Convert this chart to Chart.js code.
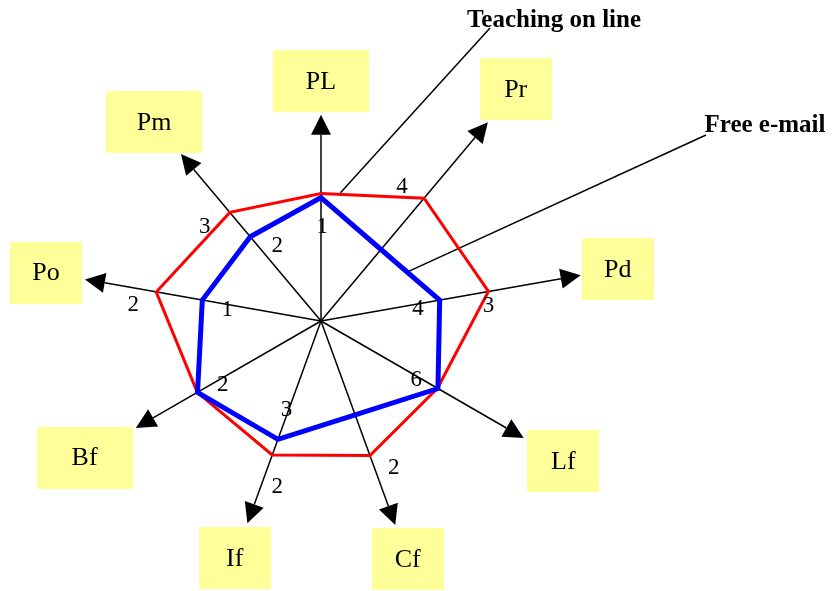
<!DOCTYPE html>
<html>
<head>
<meta charset="utf-8">
<script src="https://cdn.jsdelivr.net/npm/chart.js@4.4.1/dist/chart.umd.min.js"></script>
<style>
  html, body { margin: 0; padding: 0; background: #fff; }
  #wrap { width: 833px; height: 591px; }
</style>
</head>
<body>
<div id="wrap"><canvas id="radar"></canvas></div>
<script>
const axes = ["PL", "Pr", "Pd", "Lf", "Cf", "If", "Bf", "Po", "Pm"];
const teachingOnLine = [4.74, 5.96, 6.32, 5.0, 5.32, 5.3, 5.31, 6.22, 5.27];
const freeEmail = [4.59, 3.47, 4.48, 5.02, 3.71, 4.68, 5.3, 4.48, 4.09];
const noteText = ["1", "4", "4", "3", "6", "2", "3", "2", "2", "1", "2", "3", "2"];

// extra drawing: arrows, yellow label boxes, small numbers, callouts
const diagram = {
  id: "diagram",
  beforeDatasetsDraw(chart, args, opts) {
    const r = chart.scales.r;
    const ctx = chart.ctx;
    const c = r.getPointPositionForValue(0, 0);
    ctx.save();
    ctx.strokeStyle = "#000";
    ctx.fillStyle = "#000";
    ctx.lineWidth = 1.5;

    opts.arrowEnd.forEach((v, i) => {
      const p = r.getPointPositionForValue(i, v);
      const a = Math.atan2(p.y - c.y, p.x - c.x);
      const bx = p.x - 20 * Math.cos(a);
      const by = p.y - 20 * Math.sin(a);
      ctx.beginPath();
      ctx.moveTo(c.x, c.y);
      ctx.lineTo(bx, by);
      ctx.stroke();
      ctx.beginPath();
      ctx.moveTo(p.x, p.y);
      ctx.lineTo(bx + 10 * Math.sin(a), by - 10 * Math.cos(a));
      ctx.lineTo(bx - 10 * Math.sin(a), by + 10 * Math.cos(a));
      ctx.closePath();
      ctx.fill();
    });

    opts.callouts.forEach(co => {
      const p = r.getPointPositionForValue(co.toIndex, co.toValue);
      ctx.beginPath();
      ctx.moveTo(co.from[0], co.from[1]);
      ctx.lineTo(p.x, p.y);
      ctx.stroke();
    });
    ctx.restore();
  },
  afterDatasetsDraw(chart, args, opts) {
    const r = chart.scales.r;
    const ctx = chart.ctx;
    ctx.save();
    ctx.textAlign = "center";

    chart.data.labels.forEach((lab, i) => {
      const p = r.getPointPositionForValue(i, opts.labelAt[i]);
      const w = opts.boxWidth[i], h = 62;
      ctx.fillStyle = "#ffff99";
      ctx.fillRect(Math.round(p.x - w / 2), Math.round(p.y - h / 2), w, h);
      ctx.fillStyle = "#000";
      ctx.font = '26px "Liberation Serif"';
      ctx.textBaseline = "middle";
      ctx.fillText(lab, p.x, p.y + 1);
    });

    ctx.font = '23px "Liberation Serif"';
    ctx.textBaseline = "middle";
    noteText.forEach((t, k) => {
      const p = r.getPointPositionForValue(opts.notes[k][0], opts.notes[k][1]);
      ctx.fillText(t, p.x, p.y);
    });

    ctx.font = 'bold 25px "Liberation Serif"';
    ctx.textBaseline = "alphabetic";
    opts.callouts.forEach(co => {
      ctx.fillText(chart.data.datasets[co.dataset].label, co.text[0], co.text[1]);
    });
    ctx.restore();
  }
};

new Chart(document.getElementById("radar"), {
  type: "radar",
  data: {
    labels: axes,
    datasets: [
      {
        label: "Free e-mail",
        data: freeEmail,
        borderColor: "#0000ff",
        borderWidth: 5,
        fill: false,
        pointRadius: 0,
        borderJoinStyle: "miter"
      },
      {
        label: "Teaching on line",
        data: teachingOnLine,
        borderColor: "#ff0000",
        borderWidth: 3,
        fill: false,
        pointRadius: 0,
        borderJoinStyle: "miter"
      }
    ]
  },
  options: {
    responsive: true,
    maintainAspectRatio: false,
    animation: false,
    layout: { padding: { left: 51, right: 242, top: 52, bottom: 0 } },
    elements: { line: { tension: 0 } },
    scales: {
      r: {
        min: 0,
        max: 10,
        ticks: { display: false },
        grid: { display: false },
        angleLines: { display: false },
        pointLabels: { display: false }
      }
    },
    plugins: {
      legend: { display: false },
      tooltip: { enabled: false },
      diagram: {
        arrowEnd: [7.67, 9.65, 9.8, 8.7, 8.07, 8.0, 7.95, 8.91, 8.1],
        labelAt: [8.93, 11.26, 11.2, 10.4, 9.42, 9.38, 10.15, 10.38, 9.65],
        boxWidth: [96, 72, 72, 72, 72, 72, 96, 72, 96],
        notes: [
          [0.02, 3.48], [0.78, 5.82], [2.075, 3.63], [2.12, 6.25], [3.05, 4.17],
          [3.84, 6.08], [5.03, 3.55], [4.87, 6.37], [5.92, 4.37], [6.92, 3.51],
          [6.87, 7.0], [7.72, 5.55], [8.245, 3.24]
        ],
        callouts: [
          { dataset: 1, text: [554, 27], from: [490, 28], toIndex: 0.216, toValue: 4.82 },
          { dataset: 0, text: [765, 132], from: [706, 135], toIndex: 1.51, toValue: 3.7 }
        ]
      }
    }
  },
  plugins: [diagram]
});
</script>
</body>
</html>
